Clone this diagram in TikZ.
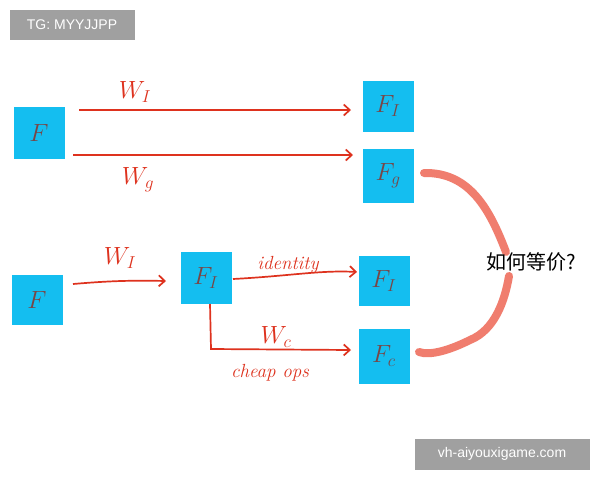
\documentclass[tikz,border=0pt]{standalone}
\usepackage{fontspec}
\setsansfont{Liberation Sans}
\newfontfamily\cjk{Noto Sans CJK SC}
\usetikzlibrary{arrows.meta}
\definecolor{boxcyan}{RGB}{20,190,240}
\definecolor{penred}{RGB}{222,50,30}
\definecolor{salmon}{RGB}{240,125,110}
\definecolor{inkF}{RGB}{120,70,70}
\definecolor{wmgray}{RGB}{160,160,160}
\tikzset{
  fbox/.style={fill=boxcyan, minimum width=51pt, minimum height=52pt, inner sep=0pt, text=inkF, font=\fontsize{26}{26}\selectfont},
  pen/.style={draw=penred, line width=1.7pt, -{Straight Barb[length=6pt,width=11pt]}},
  lbl/.style={text=penred, font=\fontsize{23}{23}\selectfont},
  wm/.style={fill=wmgray, text=white, font=\sffamily\fontsize{14}{14}\selectfont, inner sep=0pt},
  brace/.style={draw=salmon, line width=8pt, line cap=round}
}
\begin{document}
\begin{tikzpicture}[x=1pt,y=-1pt]
\useasboundingbox (0,0) rectangle (600,480);
\fill[white] (0,0) rectangle (600,480);
% watermarks
\node[wm, minimum width=125pt, minimum height=30pt] (tg) at (72,25) {TG: MYYJJPP};
\node[wm, minimum width=175pt, minimum height=31pt] (vh) at (502,454) {vh-aiyouxigame.com};
% boxes
\node[fbox] (F1) at (39,133) {$F$};
\node[fbox, minimum height=51pt] (FI1) at (388,106) {$F_I$};
\node[fbox, minimum height=54pt] (Fg) at (388,176) {$F_g$};
\node[fbox, minimum height=50pt] (F2) at (37,300) {$F$};
\node[fbox] (FI2) at (206,278) {$F_I$};
\node[fbox, minimum height=50pt] (FI3) at (384,281) {$F_I$};
\node[fbox, minimum height=55pt] (Fc) at (384,356) {$F_c$};
% coordinates
\coordinate (a1s) at (79,110);
\coordinate (a1e) at (351,110);
\coordinate (a2s) at (73,155);
\coordinate (a2e) at (353,155);
\coordinate (a3s) at (73,284);
\coordinate (a3e) at (166,281);
\coordinate (a4s) at (233,279);
\coordinate (a4e) at (357,272);
\coordinate (a5s) at (210,304);
\coordinate (a5c) at (211,349);
\coordinate (a5e) at (351,350);
% arrows
\draw[pen] (a1s) -- (a1e);
\draw[pen] (a2s) -- (a2e);
\draw[pen] (a3s) to[bend left=3] (a3e);
\draw[pen] (a4s) .. controls (290,276) and (320,270) .. (a4e);
\draw[pen] (a5s) -- (a5c) -- (a5e);
% labels
\node[lbl] (l1) at (135,92) {$W_I$};
\node[lbl] (l2) at (138,180) {$W_g$};
\node[lbl] (l3) at (120,258) {$W_I$};
\node[lbl, font=\itshape\fontsize{19}{19}\selectfont] (l4) at (288,265) {identity};
\node[lbl] (l5) at (276,337) {$W_c$};
\node[lbl, font=\itshape\fontsize{19}{19}\selectfont] (l6) at (270,373) {cheap ops};
% brace
\coordinate (b1) at (424,173);
\coordinate (b2) at (506,252);
\coordinate (b3) at (509,276);
\coordinate (b4) at (419,352);
\draw[brace] (b1) .. controls (470,172) and (490,210) .. (b2);
\draw[brace] (b3) .. controls (505,300) and (495,330) .. (470,340) .. controls (450,350) and (430,356) .. (b4);
\node[font=\cjk\fontsize{20}{20}\selectfont] (q) at (531,262) {如何等价?};
\end{tikzpicture}
\end{document}
